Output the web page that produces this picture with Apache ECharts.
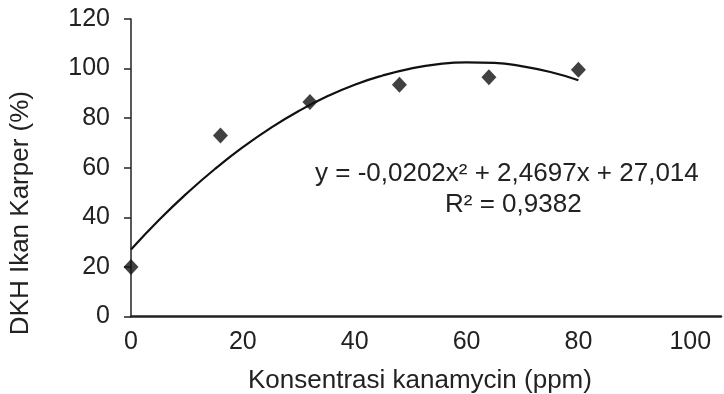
<!DOCTYPE html>
<html>
<head>
<meta charset="utf-8">
<script src="https://cdn.jsdelivr.net/npm/echarts@6/dist/echarts.min.js"></script>
<style>html,body{margin:0;padding:0;background:#fff}#c{width:724px;height:394px}</style>
</head>
<body>
<div id="c"></div>
<script>
// Observed data points (Konsentrasi kanamycin ppm, DKH %)
const concentrations = [0, 16, 32, 48, 64, 80];
const dkhValues = [20, 73, 86.5, 93.5, 96.5, 99.5];
// Trend curve
const curveX = [0, 5, 10, 15, 20, 25, 30, 35, 40, 45, 50, 55, 60, 65, 70, 75, 80];
const curveY = [27.0, 38.9, 49.7, 59.5, 68.3, 76.1, 82.9, 88.7, 93.5, 97.2, 100.0, 101.8, 102.5, 102.3, 100.9, 98.6, 95.3];
const xTicks = [0, 20, 40, 60, 80, 100];
const yTicks = [0, 20, 40, 60, 80, 100, 120];
const equationText = 'y = -0,0202x² + 2,4697x + 27,014';
const r2Text = 'R² = 0,9382';
const xTitle = 'Konsentrasi kanamycin (ppm)';
const yTitle = 'DKH Ikan Karper (%)';

const font = '"Liberation Sans", Arial, sans-serif';
const chart = echarts.init(document.getElementById('c'), null, {renderer: 'canvas'});
chart.setOption({
  animation: false,
  backgroundColor: '#fff',
  grid: {left: 131, right: 0, top: 19, bottom: 77.5, containLabel: false},
  xAxis: {
    type: 'value', min: 0, max: 105.5, interval: 20,
    axisLine: {show: true, lineStyle: {color: '#222', width: 2.5}},
    axisTick: {show: false},
    splitLine: {show: false},
    axisLabel: {
      margin: 13, fontSize: 25, fontFamily: font, color: '#222',
      formatter: v => xTicks.indexOf(v) >= 0 ? String(v) : ''
    }
  },
  yAxis: {
    type: 'value', min: 0, max: 120, interval: 20,
    axisLine: {show: true, lineStyle: {color: '#222', width: 1.5}},
    axisTick: {show: true, length: 7, lineStyle: {color: '#222', width: 1.5}},
    splitLine: {show: false},
    axisLabel: {
      margin: 21, fontSize: 25, fontFamily: font, color: '#222',
      formatter: v => yTicks.indexOf(v) >= 0 ? String(v) : ''
    }
  },
  series: [
    {
      type: 'line', data: curveX.map((x, i) => [x, curveY[i]]),
      smooth: true, showSymbol: false, symbol: 'none',
      lineStyle: {color: '#111', width: 2.2}, z: 2
    },
    {
      type: 'scatter', data: concentrations.map((x, i) => [x, dkhValues[i]]),
      symbol: 'diamond', symbolSize: [15, 16],
      itemStyle: {color: '#111'}, z: 3
    }
  ],
  graphic: [
    {type: 'text', left: 315, top: 161, style: {text: equationText, font: '26px ' + font, fill: '#222'}},
    {type: 'text', left: 445, top: 192, style: {text: r2Text, font: '26px ' + font, fill: '#222'}},
    {type: 'text', left: 248, top: 368, style: {text: xTitle, font: '26px ' + font, fill: '#222'}},
    {type: 'text', left: 8, top: 91, rotation: Math.PI / 2, originX: 0, originY: 0,
      style: {text: yTitle, font: '26px ' + font, fill: '#222'}}
  ]
});
</script>
</body>
</html>
